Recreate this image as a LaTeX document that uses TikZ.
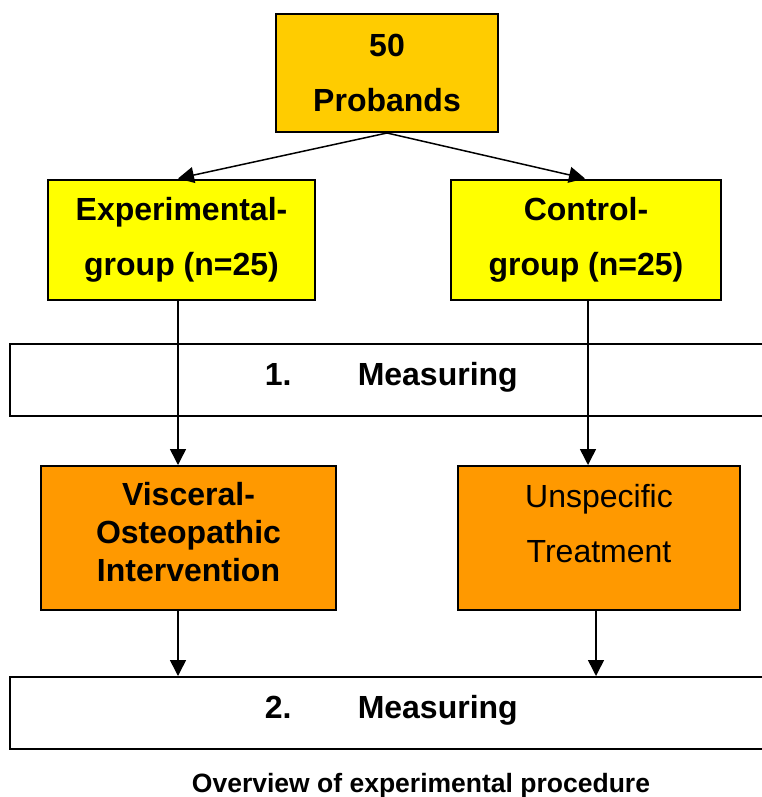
\documentclass[tikz,border=0pt]{standalone}
\usepackage{fontspec}
\setmainfont{Liberation Sans}
\usetikzlibrary{arrows.meta}

\definecolor{probandorange}{HTML}{FFCC00}
\definecolor{groupyellow}{HTML}{FFFF00}
\definecolor{treatorange}{HTML}{FF9900}

\begin{document}
\begin{tikzpicture}[x=1pt,y=-1pt,->,>={Triangle[length=16pt,width=16pt]},
    line width=1.5pt,
    box node/.style={draw,line width=2pt,inner sep=0pt,align=center,
      font=\fontsize{32}{55}\selectfont\bfseries},
    proband node/.style={box node,fill=probandorange,minimum width=222pt,minimum height=118pt},
    group node/.style={box node,fill=groupyellow,minimum height=120pt},
    treat node/.style={box node,fill=treatorange,minimum height=144pt},
    measure node/.style={box node,fill=white,minimum width=790pt,minimum height=72pt},
    measure text/.style={anchor=base west,inner sep=0pt,font=\fontsize{32}{38}\selectfont\bfseries}]

\useasboundingbox (0,0) rectangle (761,797);

\node[proband node] (probands) at (387,73) {50\\Probands};
\node[group node, minimum width=267pt] (exp) at (181.5,239.5) {Experimental-\\group (n=25)};
\node[group node, minimum width=270pt] (ctrl) at (586,239.5) {Control-\\group (n=25)};

\node[measure node] (meas1) at (405,380) {};
\node[measure text] (meas1num) at (264,385) {1.};
\node[measure text] (meas1txt) at (357,385) {Measuring};

\node[treat node, minimum width=295pt, text depth=12pt,
  font=\fontsize{32}{38}\selectfont\bfseries] (visc) at (188.5,538)
  {Visceral-\\Osteopathic\\Intervention};
\node[treat node, minimum width=282pt, text depth=30pt,
  font=\fontsize{32}{55}\selectfont] (unspec) at (599,538)
  {Unspecific\\Treatment};

\node[measure node] (meas2) at (405,713) {};
\node[measure text] (meas2num) at (264,718) {2.};
\node[measure text] (meas2txt) at (357,718) {Measuring};

\node[anchor=base,font=\fontsize{26.5}{30}\selectfont\bfseries] (caption) at (421,792)
  {Overview of experimental procedure};

% arrows
\draw (probands.south) -- ([xshift=-3.5pt]exp.north);
\draw (probands.south) -- ([xshift=-1pt]ctrl.north);
\draw ([xshift=-3.5pt]exp.south) -- ([xshift=-3.5pt]exp.south |- visc.north);
\draw ([xshift=2pt]ctrl.south) -- ([xshift=2pt]ctrl.south |- unspec.north);
\draw ([xshift=-10.5pt]visc.south) -- ([xshift=-10.5pt]visc.south |- meas2.north);
\draw ([xshift=-3pt]unspec.south) -- ([xshift=-3pt]unspec.south |- meas2.north);

\end{tikzpicture}
\end{document}
